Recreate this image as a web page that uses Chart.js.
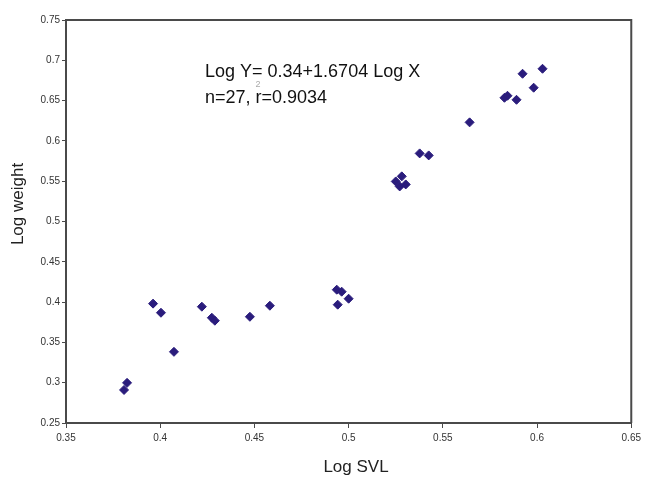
<!DOCTYPE html>
<html>
<head>
<meta charset="utf-8">
<script src="https://cdn.jsdelivr.net/npm/chart.js@4.4.1/dist/chart.umd.min.js"></script>
<style>
  html, body { margin: 0; padding: 0; background: #fff; }
  #wrap { width: 645px; height: 478px; }
</style>
</head>
<body>
<div id="wrap"><canvas id="c" width="645" height="478"></canvas></div>
<script>
// Data (Log SVL vs Log weight)
const logSVL = [
  0.3808, 0.3824, 0.3962, 0.4004, 0.4073,
  0.4221, 0.4274, 0.4290, 0.4476, 0.4582,
  0.4937, 0.4963, 0.5000, 0.4942,
  0.5250, 0.5282, 0.5271, 0.5303,
  0.5377, 0.5425, 0.5642,
  0.5827, 0.5843, 0.5891, 0.5923, 0.5982, 0.6029
];
const logWeight = [
  0.2910, 0.2998, 0.3981, 0.3868, 0.3383,
  0.3943, 0.3806, 0.3769, 0.3818, 0.3955,
  0.4154, 0.4129, 0.4042, 0.3968,
  0.5497, 0.5560, 0.5435, 0.5460,
  0.5845, 0.5820, 0.6230,
  0.6535, 0.6560, 0.6510, 0.6833, 0.6660, 0.6895
];
const xTicks = [0.35, 0.4, 0.45, 0.5, 0.55, 0.6, 0.65];
const yTicks = [0.25, 0.3, 0.35, 0.4, 0.45, 0.5, 0.55, 0.6, 0.65, 0.7, 0.75];
const xTitle = 'Log SVL';
const yTitle = 'Log weight';
const eqLine1 = 'Log Y= 0.34+1.6704 Log X';
const eqLine2a = 'n=27, ';
const eqLine2b = 'r';
const eqSup = '2';
const eqLine2c = '=0.9034';

const points = logSVL.map((x, i) => ({ x: x, y: logWeight[i] }));
const fmt = v => parseFloat(v.toFixed(2)).toString();
const FONT = '"Liberation Sans", Arial, sans-serif';

const framePlugin = {
  id: 'frame',
  afterDatasetsDraw(chart) {
    const { ctx, chartArea: a } = chart;
    ctx.save();
    ctx.strokeStyle = '#4a4a4a';
    ctx.lineWidth = 2;
    ctx.beginPath();
    ctx.moveTo(a.left, a.top);
    ctx.lineTo(a.right, a.top);
    ctx.lineTo(a.right, a.bottom);
    ctx.stroke();
    // axis titles
    ctx.fillStyle = '#222';
    ctx.font = '17px ' + FONT;
    ctx.textAlign = 'center';
    ctx.textBaseline = 'middle';
    ctx.fillText(xTitle, a.left + 290, 467);
    ctx.save();
    ctx.translate(18, 204);
    ctx.rotate(-Math.PI / 2);
    ctx.fillText(yTitle, 0, 0);
    ctx.restore();
    // equation text
    ctx.fillStyle = '#111';
    ctx.font = '18px ' + FONT;
    ctx.textBaseline = 'middle';
    ctx.textAlign = 'left';
    const tx = a.left + 139, ty1 = a.top + 52, ty2 = a.top + 78;
    ctx.fillText(eqLine1, tx, ty1);
    let w = 0;
    ctx.fillText(eqLine2a, tx, ty2);
    w += ctx.measureText(eqLine2a).width;
    ctx.fillText(eqLine2b, tx + w, ty2);
    const rW = ctx.measureText(eqLine2b).width;
    ctx.fillText(eqLine2c, tx + w + rW, ty2);
    ctx.fillStyle = '#aaa';
    ctx.font = '9px ' + FONT;
    ctx.fillText(eqSup, tx + w, ty2 - 13);
    ctx.restore();
  }
};

new Chart(document.getElementById('c'), {
  type: 'scatter',
  data: {
    datasets: [{
      data: points,
      pointStyle: 'rectRot',
      pointRadius: 4.5,
      pointHoverRadius: 4.5,
      backgroundColor: '#2a1c7c',
      borderColor: '#2a1c7c',
      borderWidth: 1
    }]
  },
  options: {
    responsive: false,
    animation: false,
    events: [],
    layout: { padding: { left: 0, top: 20, right: 13, bottom: 0 } },
    plugins: { legend: { display: false }, tooltip: { enabled: false } },
    scales: {
      x: {
        type: 'linear',
        min: 0.35, max: 0.65,
        afterBuildTicks: s => { s.ticks = xTicks.map(v => ({ value: v })); },
        afterFit: s => { s.height = 55; },
        grid: { drawOnChartArea: false, drawTicks: true, tickLength: 5, color: '#4a4a4a', lineWidth: 1 },
        border: { display: true, color: '#4a4a4a', width: 2 },
        ticks: { callback: v => fmt(v), color: '#333', font: { family: FONT, size: 10 }, padding: 4, maxRotation: 0, autoSkip: false },
        title: { display: false }
      },
      y: {
        type: 'linear',
        min: 0.25, max: 0.75,
        afterBuildTicks: s => { s.ticks = yTicks.map(v => ({ value: v })); },
        afterFit: s => { s.width = 66; },
        grid: { drawOnChartArea: false, drawTicks: true, tickLength: 4, color: '#4a4a4a', lineWidth: 1 },
        border: { display: true, color: '#4a4a4a', width: 2 },
        ticks: { callback: v => fmt(v), color: '#333', font: { family: FONT, size: 10 }, padding: 2, autoSkip: false },
        title: { display: false }
      }
    }
  },
  plugins: [framePlugin]
});
</script>
</body>
</html>
